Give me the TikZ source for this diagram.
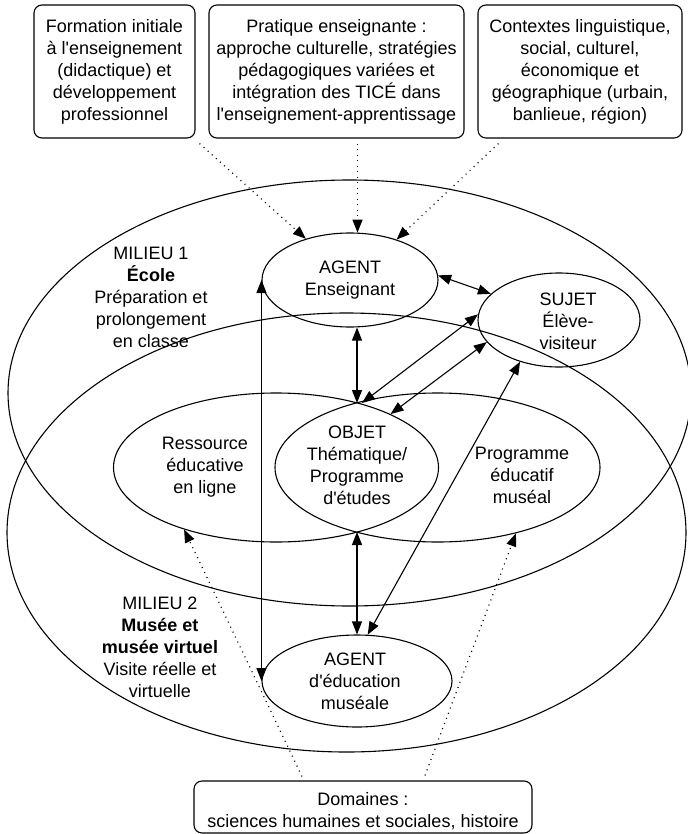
\documentclass[tikz,border=0pt]{standalone}
\usepackage{fontspec}
\setmainfont{Liberation Sans}
\usetikzlibrary{arrows.meta,shapes.geometric,calc}
\newcommand{\aq}{\textquotesingle}
\begin{document}
\begin{tikzpicture}[x=1pt,y=-1pt,
  every node/.style={font=\fontsize{18}{22}\selectfont},
  tbox/.style={draw, line width=1.1pt, rounded corners=8pt, align=center, inner sep=0pt},
  ell/.style={draw, ellipse, line width=1.1pt, inner sep=0pt},
  txt/.style={align=center, inner sep=0pt},
  tip/.tip={Triangle[length=13pt,width=10pt]},
  arr/.style={line width=1.1pt, tip-tip},
  dotarr/.style={line width=1.2pt, dash pattern=on 1pt off 4.5pt, -tip}
]
\useasboundingbox (0,0) rectangle (687,834);
\fill[white] (0,0) rectangle (687,834);

% milieux
\node[ell, minimum width=683pt, minimum height=426pt] (m1) at (349.5,393) {};
\node[ell, minimum width=679pt, minimum height=439pt] (m2) at (346.5,532.5) {};

% ressource / programme (their overlap is the OBJET lens)
\node[ell, minimum width=325pt, minimum height=149pt] (res) at (276,467.5) {};
\node[ell, minimum width=325pt, minimum height=149pt] (prog) at (437.5,467.5) {};
\coordinate (objtop) at (357,403);
\coordinate (objtopr) at (362,403);
\coordinate (objbot) at (357,532);

% agents and subject
\node[ell, minimum width=176pt, minimum height=94pt] (agent) at (350,280) {};
\node[ell, minimum width=162pt, minimum height=94pt] (sujet) at (559,320) {};
\node[ell, minimum width=190pt, minimum height=92pt] (muse) at (357,681) {};

% texts
\node[txt] (agentt) at (350,280) {AGENT\\Enseignant};
\node[txt] (sujett) at (568,321) {SUJET\\Élève-\\visiteur};
\node[txt] (objt) at (357,465.5) {OBJET\\Thématique/\\Programme\\d\aq études};
\node[txt] (rest) at (205,467) {Ressource\\éducative\\en ligne};
\node[txt] (progt) at (522,475) {Programme\\éducatif\\muséal};
\node[txt] (muset) at (355,681.5) {AGENT\\d\aq éducation\\muséale};
\node[txt] (m1t) at (151,297.5) {MILIEU 1\\\textbf{École}\\Préparation et\\prolongement\\en classe};
\node[txt] (m2t) at (160,647) {MILIEU 2\\\textbf{Musée et}\\\textbf{musée virtuel}\\Visite réelle et\\virtuelle};

% boxes
\node[tbox, minimum width=161pt, minimum height=133pt] (b1) at (114.5,71.5) {Formation initiale\\à l\aq enseignement\\(didactique) et\\développement\\professionnel};
\node[tbox, minimum width=255pt, minimum height=133pt] (b2) at (336.5,71.5) {Pratique enseignante :\\approche culturelle, stratégies\\pédagogiques variées et\\intégration des TICÉ dans\\l\aq enseignement-apprentissage};
\node[tbox, minimum width=204pt, minimum height=133pt] (b3) at (580,71.5) {Contextes linguistique,\\social, culturel,\\économique et\\géographique (urbain,\\banlieue, région)};
\node[tbox, minimum width=338pt, minimum height=52pt] (dom) at (363,807) {};
\node[txt] (domt) at (363,811) {Domaines :\\sciences humaines et sociales, histoire};

% dotted influences
\draw[dotarr] ($(b1.south east)+(4,5)$) -- (agent.137.6);
\draw[dotarr] ($(agent.81 |- b2.south)+(0,5)$) -- (agent.81);
\draw[dotarr] ($(b3.south west)+(21,5)$) -- (agent.41.3);
\draw[dotarr] ($(dom.north)+(-61,-4)$) -- (res.214);
\draw[dotarr] ($(dom.north)+(62,-5)$) -- (prog.-40);

% solid relations
\draw[arr] (agent.west) -- (muse.west);
\draw[arr] (agent.3) -- (sujet.159.2);
\draw[arr] (agent.south -| objtop) -- (objtop);
\draw[arr] (objtopr) -- (sujet.176);
\draw[arr] (res.25) -- (sujet.197.7);
\draw[arr] (objbot) -- (muse.north);
\draw[arr] (muse.77) -- (sujet.227.7);
\end{tikzpicture}
\end{document}
